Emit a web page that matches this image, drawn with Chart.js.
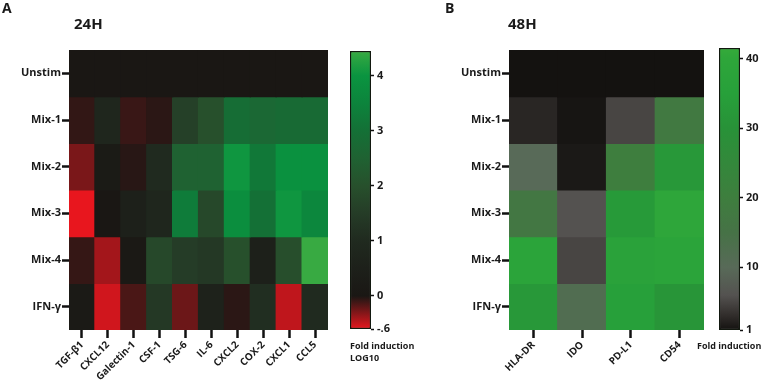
<!DOCTYPE html>
<html>
<head>
<meta charset="utf-8">
<script src="https://cdn.jsdelivr.net/npm/chart.js@4.4.1/dist/chart.umd.min.js"></script>
<style>
  html, body { margin: 0; padding: 0; background: #fff; }
  #wrap { position: relative; width: 764px; height: 387px; overflow: hidden; font-family: "Open Sans", Lato, sans-serif; color: #1a1a1a; }
  #wrap canvas { position: absolute; top: 0; }
  .txt { position: absolute; font-weight: 700; white-space: nowrap; line-height: 1; }
</style>
</head>
<body>
<div id="wrap">
  <canvas id="hmA" width="340" height="387" style="left:0"></canvas>
  <canvas id="cbA" width="60" height="387" style="left:350px"></canvas>
  <canvas id="hmB" width="330" height="387" style="left:380px"></canvas>
  <canvas id="cbB" width="45" height="387" style="left:719px"></canvas>
  <div class="txt" style="left:2px;top:1px;font-size:14px">A</div>
  <div class="txt" style="left:74px;top:16px;font-size:15px">24H</div>
  <div class="txt" style="left:445px;top:1px;font-size:14px">B</div>
  <div class="txt" style="left:508px;top:16px;font-size:15px">48H</div>
  <div class="txt" style="left:350px;top:341px;font-size:9px">Fold induction</div>
  <div class="txt" style="left:350px;top:353px;font-size:9px">LOG10</div>
  <div class="txt" style="left:697px;top:341px;font-size:9px">Fold induction</div>
</div>
<script>
(function () {
    'use strict';

    // rows shared by both panels (top to bottom)
    var ROWS = ['Unstim', 'Mix-1', 'Mix-2', 'Mix-3', 'Mix-4', 'IFN-\u03b3'];

    // panel A, 24H, fold induction LOG10
    var GENES_24H = ['TGF-\u03b21', 'CXCL12', 'Galectin-1', 'CSF-1', 'TSG-6', 'IL-6', 'CXCL2', 'COX-2', 'CXCL1', 'CCL5'];
    var UNSTIM_24H = [0, 0, 0, 0, 0, 0, 0, 0, 0, 0];
    var MIX1_24H   = [-0.07, 0.8, -0.09, -0.05, 1.6, 2.0, 2.9, 2.7, 2.8, 2.8];
    var MIX2_24H   = [-0.28, 0.2, -0.04, 1.0, 2.5, 2.5, 4.05, 3.2, 3.9, 3.9];
    var MIX3_24H   = [-0.6, 0.0, 0.5, 0.8, 3.3, 1.8, 3.8, 3.0, 4.05, 3.6];
    var MIX4_24H   = [-0.08, -0.4, 0.1, 1.8, 1.5, 1.4, 2.0, 0.5, 1.95, 4.45];
    var IFNG_24H   = [0.15, -0.53, -0.14, 1.4, -0.24, 0.6, -0.05, 1.1, -0.48, 1.0];
    var CBAR_24H_MIN = -0.6;
    var CBAR_24H_MAX = 4.45;
    var CBAR_24H_TICKS = [-0.6, 0, 1, 2, 3, 4];
    var CBAR_24H_LABELS = ['-.6', '0', '1', '2', '3', '4'];

    // panel B, 48H, fold induction
    var GENES_48H = ['HLA-DR', 'IDO', 'PD-L1', 'CD54'];
    var UNSTIM_48H = [1, 1, 1, 1];
    var MIX1_48H   = [2.5, 1.2, 5, 18];
    var MIX2_48H   = [10, 1.5, 20, 32];
    var MIX3_48H   = [17, 6, 33, 40];
    var MIX4_48H   = [38, 5, 37, 38];
    var IFNG_48H   = [32, 12, 35, 31];
    var CBAR_48H_MIN = 1;
    var CBAR_48H_MAX = 41.5;
    var CBAR_48H_TICKS = [1, 10, 20, 30, 40];
    var CBAR_48H_LABELS = ['1', '10', '20', '30', '40'];

    // colour maps
    var STOPS_24H = [
        [-0.6, '#e8161e'], [0, '#1a1714'], [0.5, '#1d201a'], [1, '#202a1f'],
        [1.5, '#253c27'], [2, '#27502c'], [2.5, '#1f6232'], [3, '#147036'],
        [3.5, '#0c843c'], [4, '#0a9440'], [4.45, '#38aa42']
    ];
    var STOPS_48H = [
        [1, '#141210'], [3, '#302c2a'], [6, '#545250'], [10, '#586a58'],
        [15, '#467246'], [20, '#3e7e3e'], [30, '#289238'], [35, '#27a03a'],
        [40, '#2ea63a'], [41.5, '#35aa3a']
    ];

    var TEXT = '#1a1a1a';
    var FONT_Y = { family: '"Open Sans", Lato, sans-serif', size: 11, weight: 'bold' };
    var FONT_X = { family: '"Open Sans", Lato, sans-serif', size: 10, weight: 'bold' };

    function hexRgb(h) {
        return [parseInt(h.substr(1, 2), 16), parseInt(h.substr(3, 2), 16), parseInt(h.substr(5, 2), 16)];
    }

    function colorAt(stops, v) {
        if (v <= stops[0][0]) { return stops[0][1]; }
        for (var i = 1; i < stops.length; i++) {
            if (v <= stops[i][0]) {
                var t = (v - stops[i - 1][0]) / (stops[i][0] - stops[i - 1][0]);
                var a = hexRgb(stops[i - 1][1]), b = hexRgb(stops[i][1]);
                return 'rgb(' + Math.round(a[0] + (b[0] - a[0]) * t) + ',' +
                    Math.round(a[1] + (b[1] - a[1]) * t) + ',' +
                    Math.round(a[2] + (b[2] - a[2]) * t) + ')';
            }
        }
        return stops[stops.length - 1][1];
    }

    function heatmap(id, cols, values, stops, yWidth, padRight) {
        var datasets = [];
        for (var r = 0; r < ROWS.length; r++) {
            var cells = [];
            for (var c = 0; c < cols.length; c++) { cells.push([r, r + 1]); }
            datasets.push({
                label: ROWS[r],
                data: cells,
                backgroundColor: values[r].map(function (v) { return colorAt(stops, v); }),
                borderWidth: 0,
                inflateAmount: 0.6,
                grouped: false,
                barPercentage: 1,
                categoryPercentage: 1
            });
        }
        return new Chart(document.getElementById(id), {
            type: 'bar',
            data: { labels: cols, datasets: datasets },
            options: {
                responsive: false,
                animation: false,
                layout: { padding: { top: 50, right: padRight, left: 0, bottom: 0 } },
                plugins: { legend: { display: false }, tooltip: { enabled: false } },
                scales: {
                    x: {
                        grid: { offset: false, drawOnChartArea: false, tickLength: 8, tickWidth: 2.5, tickColor: '#111' },
                        border: { display: false },
                        ticks: { maxRotation: 45, minRotation: 45, autoSkip: false, font: FONT_X, color: TEXT, padding: 1 },
                        afterFit: function (s) { s.height = 57; }
                    },
                    y: {
                        min: 0,
                        max: ROWS.length,
                        reverse: true,
                        afterBuildTicks: function (s) {
                            s.ticks = ROWS.map(function (_, i) { return { value: i + 0.5 }; });
                        },
                        ticks: {
                            autoSkip: false, font: FONT_Y, color: TEXT, padding: 1,
                            callback: function (v, i) { return ROWS[i]; }
                        },
                        grid: { drawOnChartArea: false, tickLength: 7, tickWidth: 2.5, tickColor: '#111' },
                        border: { display: false },
                        afterFit: function (s) { s.width = yWidth; }
                    }
                }
            }
        });
    }

    function colorbar(id, min, max, ticks, labels, stops, top, bottom, axisWidth) {
        return new Chart(document.getElementById(id), {
            type: 'bar',
            data: {
                labels: [''],
                datasets: [{
                    data: [[min, max]],
                    backgroundColor: function (ctx) {
                        var ch = ctx.chart;
                        if (!ch.chartArea) { return stops[0][1]; }
                        var ys = ch.scales.y;
                        var g = ch.ctx.createLinearGradient(0, ys.getPixelForValue(min), 0, ys.getPixelForValue(max));
                        for (var i = 0; i < stops.length; i++) {
                            g.addColorStop((stops[i][0] - min) / (max - min), stops[i][1]);
                        }
                        return g;
                    },
                    borderColor: '#12180f',
                    borderWidth: 1.5,
                    borderSkipped: false,
                    barPercentage: 1,
                    categoryPercentage: 1
                }]
            },
            options: {
                responsive: false,
                animation: false,
                layout: { padding: { top: top, bottom: bottom, left: 0, right: 0 } },
                plugins: { legend: { display: false }, tooltip: { enabled: false } },
                scales: {
                    x: { display: false },
                    y: {
                        position: 'right',
                        min: min,
                        max: max,
                        afterBuildTicks: function (s) {
                            s.ticks = ticks.map(function (v) { return { value: v }; });
                        },
                        ticks: {
                            autoSkip: false, font: FONT_Y, color: TEXT, padding: 3,
                            callback: function (v, i) { return labels[i]; }
                        },
                        grid: { drawOnChartArea: false, tickLength: 3, tickWidth: 1.5, tickColor: '#111' },
                        border: { display: false },
                        afterFit: function (s) { s.width = axisWidth; }
                    }
                }
            }
        });
    }

    heatmap('hmA', GENES_24H, [UNSTIM_24H, MIX1_24H, MIX2_24H, MIX3_24H, MIX4_24H, IFNG_24H], STOPS_24H, 69, 12);
    colorbar('cbA', CBAR_24H_MIN, CBAR_24H_MAX, CBAR_24H_TICKS, CBAR_24H_LABELS, STOPS_24H, 51, 58, 39);
    heatmap('hmB', GENES_48H, [UNSTIM_48H, MIX1_48H, MIX2_48H, MIX3_48H, MIX4_48H, IFNG_48H], STOPS_48H, 129, 6);
    colorbar('cbB', CBAR_48H_MIN, CBAR_48H_MAX, CBAR_48H_TICKS, CBAR_48H_LABELS, STOPS_48H, 48, 57, 24);
})();
</script>
</body>
</html>
